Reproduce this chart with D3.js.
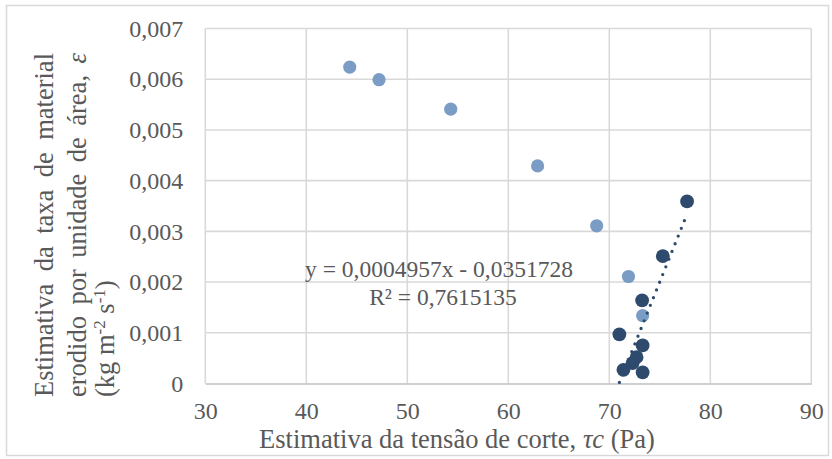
<!DOCTYPE html>
<html>
<head>
<meta charset="utf-8">
<script src="https://cdn.jsdelivr.net/npm/d3@7"></script>
<style>
  body { margin: 0; background: #fff; }
  text { font-family: "Liberation Serif", "Times New Roman", serif; fill: #595959; }
</style>
</head>
<body>
<svg id="chart" width="832" height="459"></svg>
<script>
// Axis ticks
const xTicks = [30, 40, 50, 60, 70, 80, 90];
const yTicks = [0, 0.001, 0.002, 0.003, 0.004, 0.005, 0.006, 0.007];

// Series: estimated shear stress (Pa) vs. eroded-material rate (kg m-2 s-1)
const lightX = [44.3, 47.2, 54.3, 62.9, 68.75, 71.9, 73.3];
const lightY = [0.00624, 0.00599, 0.00541, 0.00429, 0.00311, 0.00211, 0.00134];

const darkX = [77.7, 75.3, 73.25, 71.0, 73.3, 72.7, 72.3, 71.4, 73.3];
const darkY = [0.00359, 0.00251, 0.00164, 0.00097, 0.00075, 0.00052, 0.00040, 0.00027, 0.00022];

// Linear trend fitted to the dark series
const slope = 0.0004957;
const intercept = -0.0351728;
const eqText = "y = 0,0004957x - 0,0351728";
const r2Text = "R² = 0,7615135";

const svg = d3.select("#chart");
const W = 832, H = 459;
const plot = { left: 205.3, right: 811.3, top: 28.5, bottom: 383.5 };
const serif = '"Liberation Serif", "Times New Roman", serif';

svg.append("rect").attr("width", W).attr("height", H).attr("fill", "#fff");
svg.append("rect")
  .attr("x", 6.5).attr("y", 5.5).attr("width", 822).attr("height", 450)
  .attr("fill", "none").attr("stroke", "#d9d9d9").attr("stroke-width", 1.5);

const x = d3.scaleLinear().domain([30, 90]).range([plot.left, plot.right]);
const y = d3.scaleLinear().domain([0, 0.007]).range([plot.bottom, plot.top]);

const fmtY = v => v === 0 ? "0" : d3.format(".3f")(v).replace(".", ",");

// Gridlines
const grid = svg.append("g").attr("stroke", "#d9d9d9").attr("stroke-width", 1.6);
grid.selectAll("line.h").data(yTicks.filter(d => d > 0)).join("line")
  .attr("x1", plot.left).attr("x2", plot.right)
  .attr("y1", d => y(d)).attr("y2", d => y(d));
grid.selectAll("line.v").data(xTicks).join("line")
  .attr("x1", d => x(d)).attr("x2", d => x(d))
  .attr("y1", plot.top).attr("y2", plot.bottom);

// Axes
const xAxis = svg.append("g")
  .attr("transform", `translate(0,${plot.bottom})`)
  .call(d3.axisBottom(x).tickValues(xTicks).tickSize(0).tickPadding(18.5).tickFormat(d3.format("d")));
xAxis.select(".domain").attr("stroke", "#bfbfbf").attr("stroke-width", 1.6);
xAxis.selectAll("text").attr("font-size", 24).attr("fill", "#595959")
  .style("font-family", serif);

const yAxis = svg.append("g")
  .attr("transform", `translate(${plot.left},0)`)
  .call(d3.axisLeft(y).tickValues(yTicks).tickSize(0).tickPadding(22).tickFormat(fmtY));
yAxis.select(".domain").remove();
yAxis.selectAll("text").attr("font-size", 24).attr("fill", "#595959")
  .style("font-family", serif);

// Scatter series
const marks = svg.append("g");
marks.selectAll("circle.light").data(d3.range(lightX.length)).join("circle")
  .attr("class", "light")
  .attr("cx", i => x(lightX[i])).attr("cy", i => y(lightY[i])).attr("r", 6.6)
  .attr("fill", "#7b9cc4");
marks.selectAll("circle.dark").data(d3.range(darkX.length)).join("circle")
  .attr("class", "dark")
  .attr("cx", i => x(darkX[i])).attr("cy", i => y(darkY[i])).attr("r", 6.9)
  .attr("fill", "#2e4a6c");

// Dotted trendline over the dark series' x-range
const [tx0, tx1] = d3.extent(darkX);
svg.append("path")
  .datum([tx0, tx1])
  .attr("d", d3.line().x(d => x(d)).y(d => y(slope * d + intercept)))
  .attr("fill", "none").attr("stroke", "#2e4a6c")
  .attr("stroke-width", 3.3).attr("stroke-linecap", "round")
  .attr("stroke-dasharray", "0 8.3");

// Trendline equation
const eq = svg.append("g").attr("font-size", 23.5).attr("text-anchor", "middle");
eq.append("text").attr("x", 439).attr("y", 277).text(eqText);
eq.append("text").attr("x", 443).attr("y", 305).text(r2Text);

// X axis title
const xt = svg.append("text").attr("x", 457).attr("y", 448)
  .attr("text-anchor", "middle").attr("font-size", 26.5);
xt.append("tspan").text("Estimativa da tensão de corte, ");
xt.append("tspan").attr("font-style", "italic").text("τc");
xt.append("tspan").text(" (Pa)");

// Y axis title: three rotated lines, the first two justified
const yTitle = svg.append("g").attr("font-size", 26.5)
  .attr("transform", "rotate(-90)");
const span = { start: 397, end: 53 };
function justified(str, base) {
  const t = yTitle.append("text").attr("x", -span.start).attr("y", base);
  str.split(/(ε)/).forEach(p => {
    if (!p) return;
    const ts = t.append("tspan").text(p);
    if (p === "ε") ts.attr("font-style", "italic");
  });
  const natural = t.node().getComputedTextLength();
  const gaps = str.split(" ").length - 1;
  t.attr("word-spacing", Math.max(0, (span.start - span.end - natural) / gaps));
}
justified("Estimativa da taxa de material", 53);
justified("erodido por unidade de área, ε", 86);
const l3 = yTitle.append("text").attr("x", -span.start).attr("y", 114);
l3.append("tspan").text("(kg m");
l3.append("tspan").attr("font-size", 17).attr("dy", -9).text("-2");
l3.append("tspan").attr("dy", 9).text(" s");
l3.append("tspan").attr("font-size", 17).attr("dy", -9).text("-1");
l3.append("tspan").attr("dy", 9).text(")");
</script>
</body>
</html>
